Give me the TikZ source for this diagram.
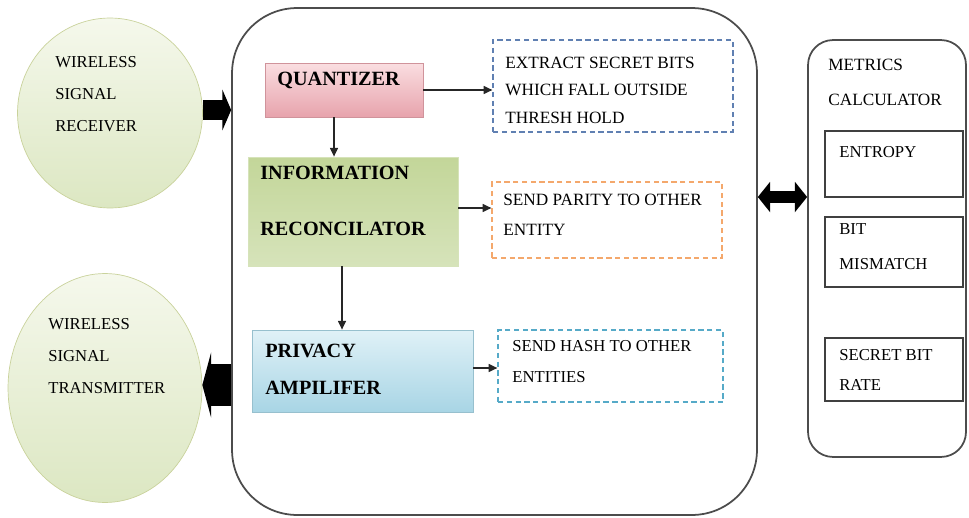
\documentclass[tikz,border=0pt]{standalone}
\usepackage{fontspec}
\setmainfont{Liberation Serif}
\usepackage{tikz}
\usetikzlibrary{
  	positioning,
  	arrows.meta,
  	shapes.geometric,
  	calc
  }
\definecolor{leafA}{RGB}{245,248,236}
\definecolor{leafB}{RGB}{220,231,194}
\definecolor{roseA}{RGB}{250,222,225}
\definecolor{roseB}{RGB}{231,163,172}
\definecolor{moss}{RGB}{195,214,153}
\definecolor{mossB}{RGB}{214,227,186}
\definecolor{skyA}{RGB}{224,241,247}
\definecolor{skyB}{RGB}{168,213,229}
\definecolor{dashblue}{RGB}{96,128,178}
\definecolor{dashorange}{RGB}{244,168,108}
\definecolor{dashteal}{RGB}{86,170,200}
\tikzstyle{blob}=[ellipse, draw=leafB!80!olive, top color=leafA, bottom color=leafB, inner sep=0pt]
\tikzstyle{blk}=[rectangle, draw=black!45, inner sep=0pt, line width=0.4pt]
\tikzstyle{note}=[rectangle, dashed, dash pattern=on 3pt off 2pt, line width=0.7pt, inner sep=0pt]
\tikzstyle{cell}=[rectangle, draw=black!75, line width=0.8pt, inner sep=0pt, minimum width=2.76cm]
\tikzstyle{txt}=[anchor=west, align=left, inner sep=0pt, text=black]
\tikzstyle{thin}=[-{Triangle[length=5pt,width=4.5pt]}, line width=0.9pt, black!85]

\begin{document}
\begin{tikzpicture}[x=0.02cm, y=-0.02cm]
  	\useasboundingbox (0,0) rectangle (969,517);
  	% outer blocks
  	\node[blob, minimum width=3.7cm, minimum height=3.8cm] (rx) at (110,113) {};
  	\node[blob, minimum width=3.88cm, minimum height=4.58cm] (tx) at (105,388) {};
  	\node[rectangle, draw=black!70, line width=1pt, rounded corners=1.3cm, minimum width=10.5cm, minimum height=10.14cm] (core) at (494.5,261.5) {};
  	\node[rectangle, draw=black!70, line width=1pt, rounded corners=0.5cm, minimum width=3.16cm, minimum height=8.34cm] (metrics) at (887,248.5) {};
  	% stages
  	\node[blk, draw=roseB!90!black, top color=roseA, bottom color=roseB, minimum width=3.16cm, minimum height=1.08cm] (quant) at (344,90) {};
  	\node[blk, draw=mossB, top color=moss, middle color=mossB!30, bottom color=mossB, minimum width=4.2cm, minimum height=2.18cm] (recon) at (353,211.5) {};
  	\node[blk, draw=skyB!90!black, top color=skyA, bottom color=skyB, minimum width=4.42cm, minimum height=1.64cm] (priv) at (362.5,371) {};
  	\node[note, draw=dashblue, minimum width=4.8cm, minimum height=1.84cm] (extract) at (613,86) {};
  	\node[note, draw=dashorange, minimum width=4.6cm, minimum height=1.52cm] (parity) at (607,220) {};
  	\node[note, draw=dashteal, minimum width=4.5cm, minimum height=1.44cm] (hash) at (610.5,366) {};
  	\node[cell, minimum height=1.32cm] (entropy) at (894,164) {};
  	\node[cell, minimum height=1.4cm] (mismatch) at (894,252) {};
  	\node[cell, minimum height=1.26cm] (rate) at (894,369.5) {};
  	% labels
  	\node[txt, font=\fontsize{9.5pt}{18.1pt}\selectfont] (rxtext) at (55,94) {WIRELESS\\SIGNAL\\RECEIVER};
  	\node[txt, font=\fontsize{9.5pt}{18.4pt}\selectfont] (txtext) at (48,356) {WIRELESS\\SIGNAL\\TRANSMITTER};
  	\node[txt, font=\fontsize{11.5pt}{14pt}\selectfont\bfseries] (quanttext) at (277,80) {QUANTIZER};
  	\node[txt, font=\fontsize{11.5pt}{32.3pt}\selectfont\bfseries] (recontext) at (260,201) {INFORMATION\\RECONCILATOR};
  	\node[txt, font=\fontsize{11.5pt}{21pt}\selectfont\bfseries] (privtext) at (265,369) {PRIVACY\\AMPILIFER};
  	\node[txt, font=\fontsize{9.8pt}{15.6pt}\selectfont] (extracttext) at (505,90) {EXTRACT SECRET BITS\\WHICH FALL OUTSIDE\\THRESH HOLD};
  	\node[txt, font=\fontsize{9.8pt}{17pt}\selectfont] (paritytext) at (503,215) {SEND PARITY TO OTHER\\ENTITY};
  	\node[txt, font=\fontsize{9.5pt}{17.6pt}\selectfont] (hashtext) at (512,362) {SEND HASH TO OTHER\\ENTITIES};
  	\node[txt, font=\fontsize{9.8pt}{19.8pt}\selectfont] (metricstext) at (828,82) {METRICS\\CALCULATOR};
  	\node[txt, font=\fontsize{9.5pt}{12pt}\selectfont] (entropytext) at (839,152) {ENTROPY};
  	\node[txt, font=\fontsize{9.5pt}{19.8pt}\selectfont] (mismatchtext) at (839,247) {BIT\\MISMATCH};
  	\node[txt, font=\fontsize{9.5pt}{17pt}\selectfont] (ratetext) at (839,370) {SECRET BIT\\RATE};
  	% flow
  	\draw[thin] (quant.east) -- (quant.east -| extract.west);
  	\draw[thin] ([xshift=-0.2cm]quant.south) -- ([xshift=-0.2cm]quant.south |- recon.north);
  	\draw[thin] ([yshift=0.07cm]recon.east) -- ([yshift=0.07cm]recon.east -| parity.west);
  	\draw[thin] ([xshift=-0.22cm]recon.south) -- ([xshift=-0.22cm]recon.south |- priv.north);
  	\draw[thin] ([yshift=0.06cm]priv.east) -- ([yshift=0.06cm]priv.east -| hash.west);
  	\draw[line width=11pt, -{Triangle[length=5pt,width=23pt]}] ([yshift=0.06cm]rx.east) -- ([yshift=0.06cm]rx.east -| core.west);
  	\draw[line width=24pt, -{Triangle[length=5pt,width=37pt]}] ([yshift=0.06cm]tx.east -| core.west) -- ([yshift=0.06cm]tx.east);
  	\draw[line width=7pt, {Triangle[length=7pt,width=17pt]}-{Triangle[length=7pt,width=17pt]}] ([yshift=1.29cm]core.east) -- ([yshift=1.29cm]core.east -| metrics.west);
  \end{tikzpicture}
\end{document}
